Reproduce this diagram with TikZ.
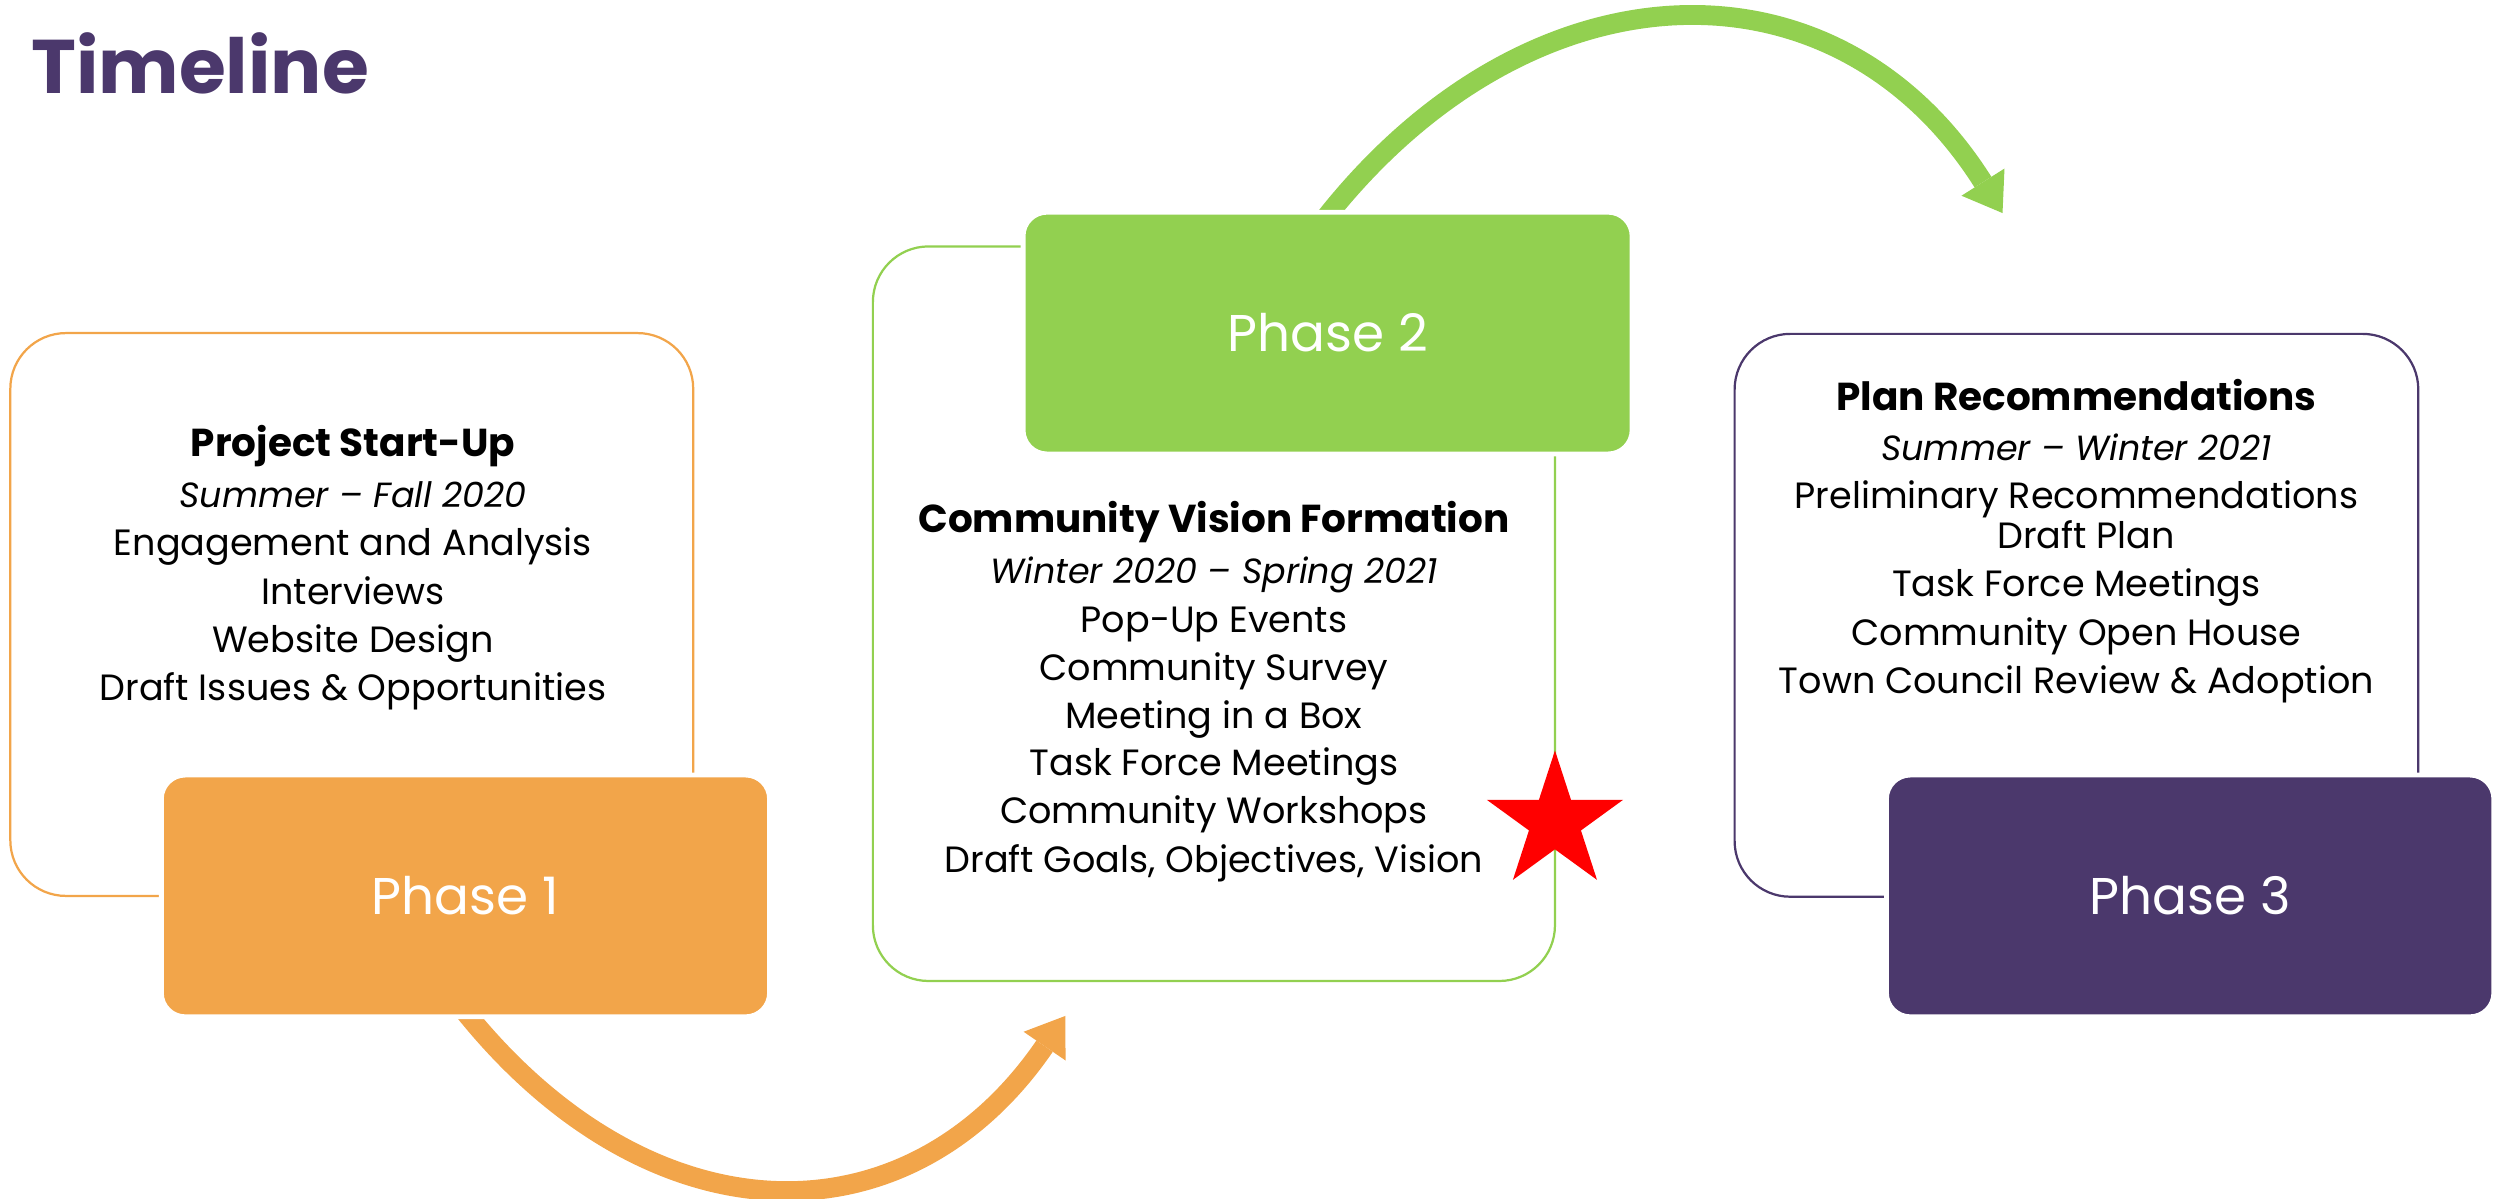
\documentclass[tikz,border=0pt]{standalone}
\usepackage{fontspec}
\setmainfont{Poppins}
\usetikzlibrary{arrows.meta,shapes.geometric}
\definecolor{orng}{HTML}{F2A54A}
\definecolor{grn}{HTML}{92D050}
\definecolor{purp}{HTML}{4B386C}
\begin{document}
\begin{tikzpicture}[x=1pt,y=-1pt,
  outbox/.style={draw, line width=1.4pt, rounded corners=35pt, inner sep=0pt},
  phasebox/.style={draw=white, line width=3pt, rounded corners=15pt, inner sep=0pt,
    text=white, font=\fontsize{32.5}{38}\selectfont},
  body/.style={anchor=base, inner sep=0pt, font=\fontsize{23}{28}\selectfont},
  head/.style={body, font=\fontsize{24.5}{29}\selectfont\bfseries},
  when/.style={body, font=\fontsize{22}{27}\selectfont\itshape},
  flow/.style={line width=12.5pt, -{Triangle[width=32pt,length=23pt,line width=0pt]}},
]
\useasboundingbox (0,0) rectangle (1568,753.5);

% title
\node[anchor=base west, inner sep=0pt, font=\fontsize{47.8}{56}\selectfont\bfseries, text=purp] (title) at (19.5,59) {Timeline};

% outline boxes
\node[outbox, draw=orng, minimum width=429.5pt, minimum height=354pt] (o1) at (221.25,386.5) {};
\node[outbox, draw=grn,  minimum width=429pt,   minimum height=462pt] (o2) at (763.5,386) {};
\node[outbox, draw=purp, minimum width=430pt,   minimum height=354pt] (o3) at (1306,387) {};

% arrows (drawn before the phase boxes, which cover their tails)
\coordinate (a1s) at (288.6,631.5);
\coordinate (a1e) at (670,639);
\coordinate (a2s) at (830.2,141.5);
\coordinate (a2e) at (1259.5,134);
\draw[flow, orng] (a1s) .. controls (405.6,781.2) and (569.4,785.9) .. (a1e);
\draw[flow, grn]  (a2s) .. controls (958.7,-25.6) and (1153.5,-33.7) .. (a2e);

% phase boxes
\node[phasebox, fill=orng, minimum width=382.5pt, minimum height=152pt] (p1) at (292.75,563.5) {Phase 1};
\node[phasebox, fill=grn,  minimum width=383pt,   minimum height=152pt] (p2) at (835,209.5) {Phase 2};
\node[phasebox, fill=purp, minimum width=382pt,   minimum height=152pt] (p3) at (1377.5,563.5) {Phase 3};

% box 1 text
\node[head] (t1a) at (222,287) {Project Start-Up};
\node[when] (t1b) at (222,319) {Summer – Fall 2020};
\node[body] (t1c) at (222,349.5) {Engagement and Analysis};
\node[body] (t1d) at (222,380) {Interviews};
\node[body] (t1e) at (222,410.4) {Website Design};
\node[body] (t1f) at (222,440.8) {Draft Issues \& Opportunities};

% box 2 text
\node[head] (t2a) at (763.5,335) {Community Vision Formation};
\node[when] (t2b) at (763.5,367) {Winter 2020 – Spring 2021};
\node[body] (t2c) at (763.5,398) {Pop-Up Events};
\node[body] (t2d) at (763.5,428) {Community Survey};
\node[body] (t2e) at (763.5,458) {Meeting in a Box};
\node[body] (t2f) at (763.5,488) {Task Force Meetings};
\node[body] (t2g) at (763.5,518) {Community Workshops};
\node[body] (t2h) at (763.5,548.7) {Draft Goals, Objectives, Vision};

% box 3 text
\node[head] (t3a) at (1306,258) {Plan Recommendations};
\node[when] (t3b) at (1306,289.5) {Summer – Winter 2021};
\node[body] (t3c) at (1306,320) {Preliminary Recommendations};
\node[body] (t3d) at (1312,345) {Draft Plan};
\node[body] (t3e) at (1306,375) {Task Force Meetings};
\node[body] (t3f) at (1306,406) {Community Open House};
\node[body] (t3g) at (1306,436) {Town Council Review \& Adoption};

% star
\node[star, star points=5, star point ratio=2.618, fill=red, minimum size=90pt, inner sep=0pt] (star) at (978,517) {};
\end{tikzpicture}
\end{document}
